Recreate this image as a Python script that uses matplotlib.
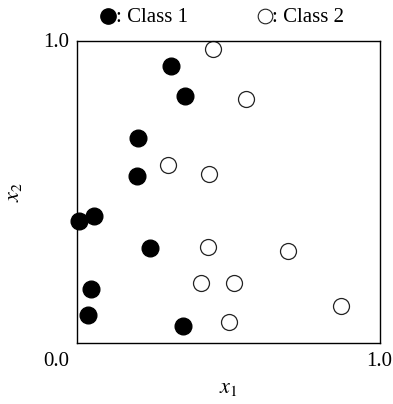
import matplotlib
matplotlib.use("Agg")
import matplotlib.pyplot as plt

plt.rcParams["font.family"] = ["Liberation Serif", "DejaVu Serif"]
plt.rcParams["mathtext.fontset"] = "stix"

# class 1 (filled) and class 2 (open) points
class1_x = [0.31, 0.356, 0.201, 0.198, 0.007, 0.055, 0.241, 0.047, 0.037, 0.351]
class1_y = [0.918, 0.818, 0.680, 0.554, 0.404, 0.421, 0.313, 0.179, 0.091, 0.057]
class2_x = [0.449, 0.558, 0.301, 0.436, 0.431, 0.696, 0.408, 0.518, 0.871, 0.502]
class2_y = [0.974, 0.808, 0.589, 0.560, 0.318, 0.305, 0.200, 0.200, 0.123, 0.070]

class_labels = [": Class 1", ": Class 2"]
tick_lo, tick_hi = "0.0", "1.0"

fig = plt.figure(figsize=(3.93, 4.04), dpi=100)
ax = fig.add_axes([0.196, 0.151, 0.771, 0.748])

ms = 12
ax.plot(class1_x, class1_y, "o", ms=ms, mfc="black", mec="black", clip_on=False)
ax.plot(class2_x, class2_y, "o", ms=ms - 0.5, mfc="white", mec="#222222",
        mew=0.9, clip_on=False)

ax.set_xlim(0, 1)
ax.set_ylim(0, 1)
ax.set_xticks([])
ax.set_yticks([])
for sp in ax.spines.values():
    sp.set_linewidth(1.0)

# corner tick labels
fs = 15
ax.text(-0.07, 0.993, tick_hi, transform=ax.transAxes, ha="center", va="center", fontsize=fs)
ax.text(-0.07, -0.06, tick_lo, transform=ax.transAxes, ha="center", va="center", fontsize=fs)
fig.text(392 / 393, 1 - 361 / 404, tick_hi, ha="right", va="center", fontsize=fs)

ax.text(0.5, -0.15, "$x_1$", transform=ax.transAxes, ha="center", va="center", fontsize=16)
ax.text(-0.205, 0.5, "$x_2$", transform=ax.transAxes, ha="center", va="center",
        fontsize=16, rotation=90)

# legend on top
leg_y = 1 - 17 / 404
fig.lines.append(plt.Line2D([108 / 393], [1 - 16 / 404], marker="o", ms=11, mfc="black",
                            mec="black", transform=fig.transFigure))
fig.lines.append(plt.Line2D([265 / 393], [1 - 16 / 404], marker="o", ms=10.5, mfc="white",
                            mec="#222222", mew=0.8, transform=fig.transFigure))
fig.text(116.5 / 393, leg_y, class_labels[0], ha="left", va="center", fontsize=fs)
fig.text(272 / 393, leg_y, class_labels[1], ha="left", va="center", fontsize=fs)

fig.savefig("out.png", dpi=100)
